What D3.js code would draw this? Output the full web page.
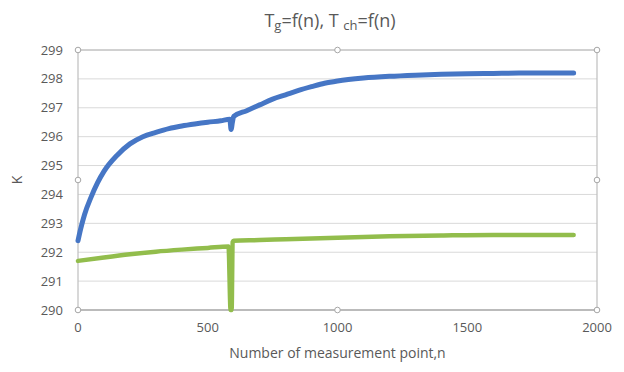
<!DOCTYPE html>
<html>
<head>
<meta charset="utf-8">
<script src="https://cdn.jsdelivr.net/npm/d3@7"></script>
<style>
  body { margin: 0; background: #fff; }
  text { font-family: "Open Sans", "Noto Sans", sans-serif; fill: #595959; }
</style>
</head>
<body>
<div id="chart"></div>
<script>
// Data

var nTg  = [0, 10, 25, 50, 75, 100, 150, 200, 250, 300, 350, 400, 450, 500, 550, 585, 590, 595, 600, 650, 700, 750, 800, 850, 900, 950, 1000, 1100, 1200, 1300, 1400, 1500, 1600, 1700, 1800, 1910];
var tg   = [292.4, 292.8, 293.3, 293.9, 294.4, 294.8, 295.35, 295.75, 296.0, 296.15, 296.28, 296.37, 296.44, 296.5, 296.55, 296.6, 296.25, 296.5, 296.7, 296.9, 297.1, 297.3, 297.45, 297.6, 297.73, 297.85, 297.93, 298.03, 298.09, 298.13, 298.16, 298.18, 298.19, 298.2, 298.2, 298.2];

var nTch = [0, 100, 200, 300, 400, 500, 580, 588, 592, 596, 600, 700, 800, 1000, 1200, 1400, 1600, 1800, 1910];
var tch  = [291.7, 291.82, 291.93, 292.02, 292.09, 292.15, 292.2, 290.0, 290.0, 292.35, 292.4, 292.42, 292.45, 292.5, 292.55, 292.58, 292.6, 292.6, 292.6];

var xTicks = [0, 500, 1000, 1500, 2000];
var yTicks = [290, 291, 292, 293, 294, 295, 296, 297, 298, 299];

// Layout

var width = 624, height = 372;
var margin = {top: 50, right: 27, bottom: 62, left: 78};
var innerW = width - margin.left - margin.right;
var innerH = height - margin.top - margin.bottom;

var svg = d3.select("#chart").append("svg")
    .attr("width", width)
    .attr("height", height);

var x = d3.scaleLinear().domain([0, 2000]).range([0, innerW]);
var y = d3.scaleLinear().domain([290, 299]).range([innerH, 0]);

var g = svg.append("g")
    .attr("transform", "translate(" + margin.left + "," + margin.top + ")");

// Gridlines

g.selectAll(".grid").data(yTicks).enter().append("line")
    .attr("x1", 0).attr("x2", innerW)
    .attr("y1", d => y(d)).attr("y2", d => y(d))
    .attr("stroke", "#d9d9d9").attr("stroke-width", 1);

// Plot area frame

g.append("rect")
    .attr("width", innerW).attr("height", innerH)
    .attr("fill", "none").attr("stroke", "#bfbfbf").attr("stroke-width", 1.2);

g.append("line")
    .attr("x1", 0).attr("x2", innerW).attr("y1", innerH).attr("y2", innerH)
    .attr("stroke", "#a6a6a6");

// Tick labels

g.selectAll(".ytick").data(yTicks).enter().append("text")
    .attr("x", -15).attr("y", d => y(d)).attr("dy", "0.35em")
    .attr("text-anchor", "end").style("font-size", "13px")
    .text(d => d);

g.selectAll(".xtick").data(xTicks).enter().append("text")
    .attr("x", d => x(d)).attr("y", innerH + 22)
    .attr("text-anchor", "middle").style("font-size", "13px")
    .text(d => d);

// Series

var line = d3.line().curve(d3.curveMonotoneX).x(d => x(d[0])).y(d => y(d[1]));

g.append("path")
    .datum(d3.zip(nTch, tch))
    .attr("d", line)
    .attr("fill", "none").attr("stroke", "#92bd4c")
    .attr("stroke-width", 4.5).attr("stroke-linejoin", "round").attr("stroke-linecap", "round");

g.append("path")
    .datum(d3.zip(nTg, tg))
    .attr("d", line)
    .attr("fill", "none").attr("stroke", "#4676c5")
    .attr("stroke-width", 5).attr("stroke-linejoin", "round").attr("stroke-linecap", "round");

// Selection handles on the frame

var handles = [[0, 0], [innerW / 2, 0], [innerW, 0], [0, innerH / 2], [innerW, innerH / 2], [0, innerH], [innerW / 2, innerH], [innerW, innerH]];
g.selectAll(".handle").data(handles).enter().append("circle")
    .attr("cx", d => d[0]).attr("cy", d => d[1]).attr("r", 2.8)
    .attr("fill", "#fff").attr("stroke", "#a6a6a6").attr("stroke-width", 1);

// Titles

var title = svg.append("text")
    .attr("x", 330).attr("y", 27)
    .attr("text-anchor", "middle").style("font-size", "18px");
title.append("tspan").text("T");
title.append("tspan").text("g").style("font-size", "13px").attr("dy", 3);
title.append("tspan").text("=f(n), T ").attr("dy", -3);
title.append("tspan").text("ch").style("font-size", "13px").attr("dy", 3);
title.append("tspan").text("=f(n)").attr("dy", -3);

svg.append("text")
    .attr("x", margin.left + innerW / 2).attr("y", 358)
    .attr("text-anchor", "middle").style("font-size", "14px")
    .text("Number of measurement point,n");

svg.append("text")
    .attr("transform", "translate(22," + (margin.top + innerH / 2) + ") rotate(-90)")
    .attr("text-anchor", "middle").style("font-size", "14px")
    .text("K");
</script>
</body>
</html>
